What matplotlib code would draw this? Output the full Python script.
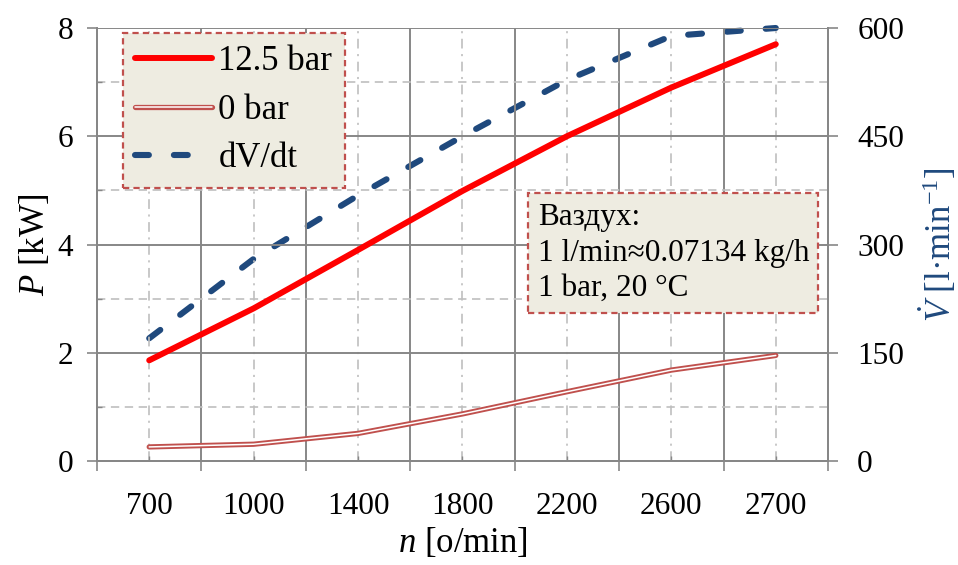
import matplotlib
matplotlib.use("Agg")
import matplotlib.pyplot as plt
import matplotlib.patheffects as pe
from matplotlib.patches import Rectangle
from matplotlib.ticker import FixedLocator, NullFormatter, FixedFormatter

# ---- data ----
categories = ["700", "1000", "1400", "1800", "2200", "2600", "2700"]
p_12_5bar = [1.86, 2.82, 3.9, 4.99, 6.0, 6.9, 7.7]
p_0bar = [0.26, 0.31, 0.51, 0.87, 1.28, 1.68, 1.95]
flow_dvdt = [170, 280, 368, 450, 528, 589, 600]
series_labels = ["12.5 bar", "0 bar", "dV/dt"]
note_lines = ["Вaздух:", "1 l/min≈0.07134 kg/h", "1 bar, 20 °C"]

plt.rcParams["font.family"] = ["Liberation Serif", "DejaVu Serif"]
plt.rcParams["mathtext.fontset"] = "custom"
plt.rcParams["mathtext.rm"] = "Liberation Serif"
plt.rcParams["mathtext.it"] = "Liberation Serif:italic"
plt.rcParams["lines.scale_dashes"] = False

FS = 22.5
FS_LAB = 25
FS_LEG = 25
GRID_DARK = "#878787"
GRID_LIGHT = "#BFBFBF"
RED = "#FF0000"
DRED = "#C0504D"
BLUE = "#1F497D"
BOXFC = "#EEECE1"

W, H = 958, 565
fig = plt.figure(figsize=(W / 100, H / 100), dpi=100)
L, R, T, B = 97, 828, 28, 461
ax = fig.add_axes([L / W, 1 - B / H, (R - L) / W, (B - T) / H])
ax2 = ax.twinx()

x = list(range(len(categories)))
n = len(categories)
ax.set_xlim(-0.5, n - 0.5)
ax.set_ylim(0, 8)
ax2.set_ylim(0, 600)

# grid
ax.xaxis.set_major_locator(FixedLocator([i - 0.5 for i in range(n + 1)]))
ax.xaxis.set_major_formatter(NullFormatter())
ax.xaxis.set_minor_locator(FixedLocator(x))
ax.xaxis.set_minor_formatter(FixedFormatter(categories))
ax.yaxis.set_major_locator(FixedLocator([0, 2, 4, 6, 8]))
ax.yaxis.set_minor_locator(FixedLocator([1, 3, 5, 7]))
ax2.yaxis.set_major_locator(FixedLocator([0, 150, 300, 450, 600]))
ax2.yaxis.set_minor_locator(FixedLocator([]))

ax.grid(which="major", color=GRID_DARK, lw=1.4, ls="-")
ax.grid(which="minor", axis="y", color=GRID_LIGHT, lw=1.2, ls=(0, (6, 4)))
ax.grid(which="minor", axis="x", color=GRID_LIGHT, lw=1.2, ls=(0, (7, 4, 1.5, 4)))
ax.set_axisbelow(True)

for a in (ax, ax2):
    for s in a.spines.values():
        s.set_color(GRID_DARK)
        s.set_linewidth(1.4)
    a.spines["top"].set_visible(False)

ax.tick_params(which="major", direction="out", length=7, width=1.2, color=GRID_DARK,
               labelsize=FS, pad=10)
ax.tick_params(axis="x", which="minor", direction="in", length=3.5, width=1.0,
               color=GRID_DARK, labelsize=FS, pad=22)
ax.tick_params(axis="y", which="minor", direction="in", length=3.5, width=1.0,
               color=GRID_DARK)
ax2.tick_params(which="major", direction="out", length=7, width=1.2, color=GRID_DARK,
                labelsize=FS, pad=14)

# lines
ax2.plot(x, flow_dvdt, color=BLUE, lw=4.4, ls=(0, (10, 18)), dash_capstyle="round",
         label=series_labels[2], zorder=3, clip_on=False)
ax.plot(x, p_0bar, color="white", lw=1.1, solid_capstyle="round",
        path_effects=[pe.Stroke(linewidth=3.8, foreground=DRED, capstyle="round"), pe.Normal()],
        label=series_labels[1], zorder=3)
ax.plot(x, p_12_5bar, color=RED, lw=4.3, solid_capstyle="round",
        label=series_labels[0], zorder=4)
ax.set_zorder(ax2.get_zorder() + 1)
ax.patch.set_visible(False)

# legend
h1, l1 = ax.get_legend_handles_labels()
h2, l2 = ax2.get_legend_handles_labels()
handles = [h1[1], h1[0], h2[0]]
labels = [l1[1], l1[0], l2[0]]
leg = ax.legend(handles, labels, loc="upper left",
                bbox_to_anchor=((123 - L) / (R - L), (B - 33) / (B - T)),
                borderaxespad=0, fontsize=FS_LEG, frameon=True, fancybox=False,
                handlelength=2.2, handletextpad=0.2, labelspacing=0.45,
                borderpad=0.35)
fr = leg.get_frame()
fr.set_facecolor(BOXFC)
fr.set_edgecolor(DRED)
fr.set_linewidth(1.6)
fr.set_linestyle((0, (4.5, 3)))
fr.set_alpha(1)

# note box
bx0, by0, bx1, by1 = 528, 193, 818, 313
ax.add_patch(Rectangle(((bx0 - L) / (R - L), (B - by1) / (B - T)),
                       (bx1 - bx0) / (R - L), (by1 - by0) / (B - T),
                       transform=ax.transAxes, fc=BOXFC, ec=DRED, lw=1.6,
                       ls=(0, (4.5, 3)), zorder=6))
ax.text((538 - L) / (R - L), (B - 203) / (B - T), "\n".join(note_lines),
        transform=ax.transAxes, fontsize=FS, va="top", ha="left",
        linespacing=1.3, zorder=7)

# axis labels
ax.set_xlabel(r"$n$ [o/min]", fontsize=FS_LAB, labelpad=4)
ax.set_ylabel(r"$P$ [kW]", fontsize=FS_LAB, labelpad=4)
ax2.set_ylabel(r"$\dot{V}$ [l·min$^{-1}$]", fontsize=FS_LAB, color=BLUE, labelpad=10)

fig.savefig("out.png", dpi=100)
